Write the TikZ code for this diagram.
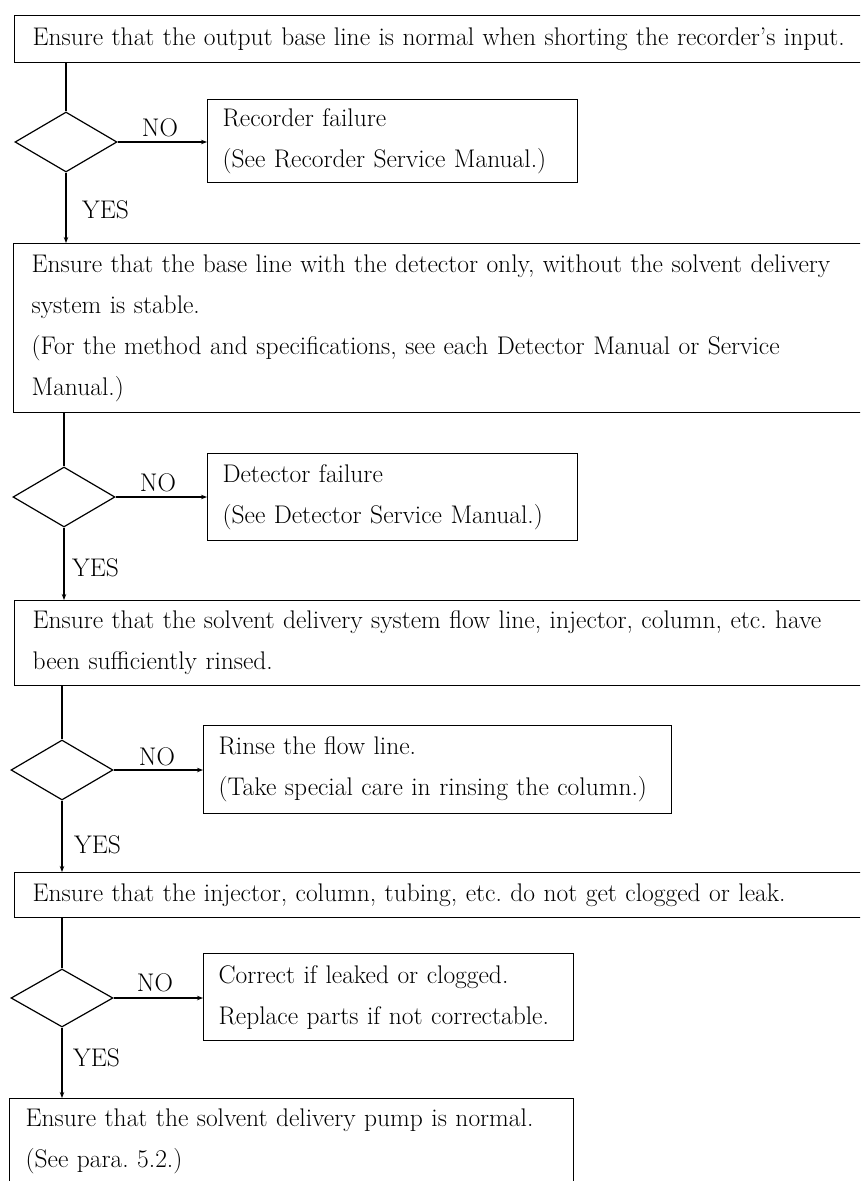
\documentclass[tikz,border=0pt]{standalone}
\usetikzlibrary{shapes.geometric,arrows.meta}
\begin{document}
\begin{tikzpicture}[x=1pt,y=-1pt,
  every node/.style={font=\fontsize{25.5}{41}\selectfont\frenchspacing},
  frame/.style={draw, line width=1.2pt, rectangle, anchor=north west, align=left, inner ysep=0pt},
  mainbox/.style={frame, text width=900pt, inner xsep=18pt},
  sidebox/.style={frame, inner xsep=15pt},
  decision/.style={draw, line width=1.2pt, diamond, inner sep=0pt, minimum width=102pt, minimum height=60pt},
  tag/.style={inner sep=0pt},
  link/.style={line width=1.2pt},
  flow/.style={link, -{Stealth[length=6pt,width=4.5pt]}}
]
\useasboundingbox (0,0) rectangle (860,1181);
\clip (0,0) rectangle (860,1181);

% checks (the long boxes run off to the right)
\node[mainbox, minimum height=47pt] (b1) at (14,15)
  {Ensure that the output base line is normal when shorting the recorder's input.};
\node[mainbox, minimum height=169pt] (b2) at (13,243)
  {Ensure that the base line with the detector only, without the solvent delivery\\
   system is stable.\\
   (For the method and specifications, see each Detector Manual or Service\\
   Manual.)};
\node[mainbox, minimum height=85pt] (b3) at (14,600)
  {Ensure that the solvent delivery system flow line, injector, column, etc. have\\
   been sufficiently rinsed.};
\node[mainbox, minimum height=45pt] (b4) at (14,872)
  {Ensure that the injector, column, tubing, etc. do not get clogged or leak.};
\node[frame, inner xsep=16pt, inner ysep=10pt, text width=532pt] (b5) at (9,1098)
  {Ensure that the solvent delivery pump is normal.\\
   (See para. 5.2.)\rule[-60pt]{0pt}{1pt}};

% decisions
\node[decision] (d1) at (66,142) {};
\node[decision] (d2) at (64,497) {};
\node[decision] (d3) at (62,770) {};
\node[decision, minimum height=58pt] (d4) at (62,998) {};

% remedies
\node[sidebox, text width=340pt, minimum height=83pt] (r1) at (207,99)
  {Recorder failure\\(See Recorder Service Manual.)};
\node[sidebox, text width=340pt, minimum height=87pt] (r2) at (207,453)
  {Detector failure\\(See Detector Service Manual.)};
\node[sidebox, text width=438pt, minimum height=88pt] (r3) at (203,725)
  {Rinse the flow line.\\(Take special care in rinsing the column.)};
\node[sidebox, text width=340pt, minimum height=87pt] (r4) at (203,953)
  {Correct if leaked or clogged.\\Replace parts if not correctable.};

% branch labels
\node[tag] (no1) at (160,128) {NO};
\node[tag] (no2) at (158,483) {NO};
\node[tag] (no3) at (157,757) {NO};
\node[tag] (no4) at (155,983) {NO};
\node[tag, anchor=west] (yes1) at (82,210) {YES};
\node[tag, anchor=west] (yes2) at (72,568) {YES};
\node[tag, anchor=west] (yes3) at (74,845) {YES};
\node[tag, anchor=west] (yes4) at (73,1058) {YES};

% connectors
\draw[link] (b1.south -| d1.north) -- (d1.north);
\draw[flow] (d1.east) -- (r1.west |- d1.east);
\draw[flow] (d1.south) -- (d1.south |- b2.north);

\draw[link] (b2.south -| d2.north) -- (d2.north);
\draw[flow] (d2.east) -- (r2.west |- d2.east);
\draw[flow] (d2.south) -- (d2.south |- b3.north);

\draw[link] (b3.south -| d3.north) -- (d3.north);
\draw[flow] (d3.east) -- (r3.west |- d3.east);
\draw[flow] (d3.south) -- (d3.south |- b4.north);

\draw[link] (b4.south -| d4.north) -- (d4.north);
\draw[flow] (d4.east) -- (r4.west |- d4.east);
\draw[flow] (d4.south) -- (d4.south |- b5.north);
\end{tikzpicture}
\end{document}
